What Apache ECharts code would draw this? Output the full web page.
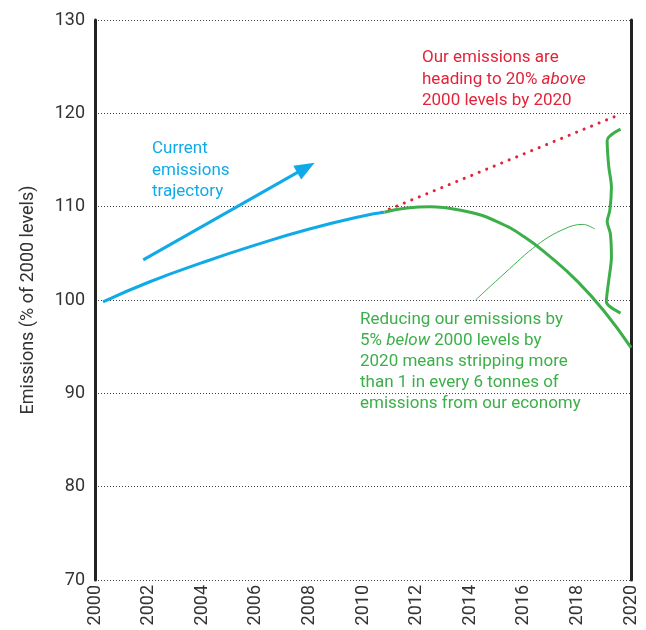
<!DOCTYPE html>
<html>
<head>
<meta charset="utf-8">
<script src="https://cdn.jsdelivr.net/npm/echarts@6/dist/echarts.min.js"></script>
<style>
html,body{margin:0;padding:0;background:#fff;}
#c{width:646px;height:630px;}
</style>
</head>
<body>
<div id="c"></div>
<script>
// ---- data ----
var xTicks = [2000, 2002, 2004, 2006, 2008, 2010, 2012, 2014, 2016, 2018, 2020];
var yTicks = [70, 80, 90, 100, 110, 120, 130];
var currentTrajectory = [[2000.3, 99.8], [2002, 101.9], [2004, 104.0], [2006, 105.9], [2008, 107.6], [2010, 109.0], [2010.8, 109.4]];
var reductionPath = [[2010.8, 109.4], [2011.5, 109.8], [2012.5, 110.0], [2013, 109.9], [2014, 109.4], [2015, 108.4], [2016, 106.8], [2017, 104.6], [2018, 102.0], [2019, 98.8], [2020, 94.9]];
var aboveTrend = [[2010.7, 109.4], [2019.6, 119.9]];
var arrowLine = [[2001.8, 104.3], [2007.87, 114.18]];
var leaderLine = [[2014.2, 100.0], [2015.3, 102.9], [2016.5, 105.9], [2017.5, 107.6], [2018.2, 108.1], [2018.65, 107.6]];
var bracket = [[2019.61, 118.3], [2019.11, 117.1], [2019.17, 114.3], [2019.27, 112.1], [2019.21, 109.6], [2019.11, 108.4], [2019.23, 107.1], [2019.27, 104.6], [2019.17, 102.1], [2019.08, 99.8], [2019.61, 98.6]];
var yAxisName = 'Emissions (% of 2000 levels)';

var FONT = "Roboto, 'Noto Sans', sans-serif";
var BLUE = '#10aae8', GREEN = '#3daf4a', RED = '#e2243a', INK = '#333333';

var chart = echarts.init(document.getElementById('c'), null, {renderer: 'canvas'});
chart.setOption({
  animation: false,
  textStyle: {fontFamily: FONT},
  grid: {left: 95, right: 15, top: 20, bottom: 50, containLabel: false},
  xAxis: {
    type: 'value', min: xTicks[0], max: xTicks[xTicks.length - 1], interval: 2,
    axisLine: {show: false}, axisTick: {show: false}, splitLine: {show: false},
    axisLabel: {rotate: 90, fontSize: 18, color: INK, margin: 5, fontFamily: FONT,
      formatter: function (v) { return String(v); }}
  },
  yAxis: [{
    type: 'value', min: yTicks[0], max: yTicks[yTicks.length - 1], interval: 10,
    name: yAxisName, nameLocation: 'middle', nameGap: 58,
    nameTextStyle: {fontSize: 18, color: INK, fontFamily: FONT},
    axisLine: {show: true, lineStyle: {color: '#222', width: 3}},
    axisTick: {show: false},
    axisLabel: {fontSize: 18, color: INK, margin: 10, fontFamily: FONT},
    splitLine: {show: true, lineStyle: {color: '#444', width: 1, type: [1, 2]}}
  }, {
    type: 'value', min: yTicks[0], max: yTicks[yTicks.length - 1], interval: 10, position: 'right',
    axisLine: {show: true, lineStyle: {color: '#222', width: 3}},
    axisTick: {show: false}, axisLabel: {show: false}, splitLine: {show: false}
  }],
  series: [
    {type: 'line', data: aboveTrend, symbol: 'none', z: 2,
     lineStyle: {color: RED, width: 3, type: [0.1, 8], cap: 'round'}},
    {type: 'line', data: currentTrajectory, smooth: true, symbol: 'none', z: 3,
     lineStyle: {color: BLUE, width: 3}},
    {type: 'line', data: reductionPath, smooth: true, symbol: 'none', z: 4,
     lineStyle: {color: GREEN, width: 3}},
    {type: 'line', data: leaderLine, smooth: 0.4, symbol: 'none', z: 4,
     lineStyle: {color: GREEN, width: 1}},
    {type: 'line', data: bracket, smooth: 0.3, symbol: 'none', z: 4,
     lineStyle: {color: GREEN, width: 3}},
    {type: 'line', data: [], symbol: 'none',
     markLine: {silent: true, symbol: ['none', 'triangle'], symbolSize: [16, 20],
       label: {show: false},
       lineStyle: {color: BLUE, width: 3, type: 'solid'},
       data: [[{coord: arrowLine[0]}, {coord: arrowLine[1]}]]}}
  ],
  graphic: [
    {type: 'text', left: 152, top: 138, style: {
      text: 'Current\nemissions\ntrajectory', fill: BLUE, font: '17px ' + FONT, lineHeight: 21.5}},
    {type: 'text', left: 422, top: 47, style: {
      text: 'Our emissions are\nheading to 20% {i|above}\n2000 levels by 2020', fill: RED, font: '17px ' + FONT, lineHeight: 21.5,
      rich: {i: {fontStyle: 'italic', fill: RED, fontSize: 17, fontFamily: FONT, lineHeight: 21.5}}}},
    {type: 'text', left: 360, top: 309, style: {
      text: 'Reducing our emissions by\n5% {i|below} 2000 levels by\n2020 means stripping more\nthan 1 in every 6 tonnes of\nemissions from our economy', fill: GREEN, font: '17px ' + FONT, lineHeight: 21,
      rich: {i: {fontStyle: 'italic', fill: GREEN, fontSize: 17, fontFamily: FONT, lineHeight: 21}}}}
  ]
});
</script>
</body>
</html>
